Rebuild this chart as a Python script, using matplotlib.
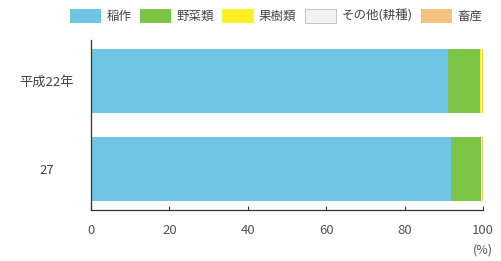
import matplotlib
matplotlib.use("Agg")
import numpy as np
from matplotlib import pyplot as plt

plt.rcParams["font.family"] = ["Noto Sans CJK JP", "DejaVu Sans"]

years = ["平成22年", "27"]
categories = ["稲作", "野菜類", "果樹類", "その他(耕種)", "畜産"]
colors = ["#6ec6e3", "#7cc443", "#fff02a", "#f2f2f0", "#f2c27e"]
# shares in %, one list per category (years in order)
rice = [91.1, 91.8]
vegetables = [8.2, 7.6]
fruit = [0.3, 0.2]
other = [0.2, 0.2]
livestock = [0.2, 0.2]
series = [rice, vegetables, fruit, other, livestock]

fig = plt.figure(figsize=(5.01, 2.61), dpi=100)
ax = fig.add_axes([91 / 501, 51 / 261, 392 / 501, 170 / 261])

y = np.arange(len(years))
left = np.zeros(len(years))
for name, vals, c in zip(categories, series, colors):
    ax.barh(y, vals, left=left, height=0.73, color=c, label=name,
            edgecolor="none")
    left += np.array(vals)

ax.set_xlim(0, 100)
ax.set_ylim(1.47, -0.47)
ax.set_yticks(y)
ax.set_yticklabels(years, fontsize=9.5, color="#444444", ha="center")
ax.tick_params(axis="y", length=0, pad=32)
ax.set_xticks([0, 20, 40, 60, 80, 100])
ax.tick_params(axis="x", direction="in", length=3, width=0.8, color="#333333",
               labelsize=9.5, labelcolor="#555555", pad=10)
for s in ["top", "right"]:
    ax.spines[s].set_visible(False)
for s in ["left", "bottom"]:
    ax.spines[s].set_color("#333333")
    ax.spines[s].set_linewidth(0.9)
ax.text(1.0, -0.2, "(%)", transform=ax.transAxes, fontsize=9, color="#555555",
        ha="center", va="top")

leg = fig.legend(loc="upper right", bbox_to_anchor=(0.985, 1.01), ncol=5,
                 frameon=False, fontsize=9, handlelength=2.5, handleheight=1.35,
                 handletextpad=0.4, columnspacing=0.7, labelcolor="#444444")
leg.legend_handles[3].set_edgecolor("#bbbbbb")
leg.legend_handles[3].set_linewidth(0.6)

fig.savefig("out.png", dpi=100)
